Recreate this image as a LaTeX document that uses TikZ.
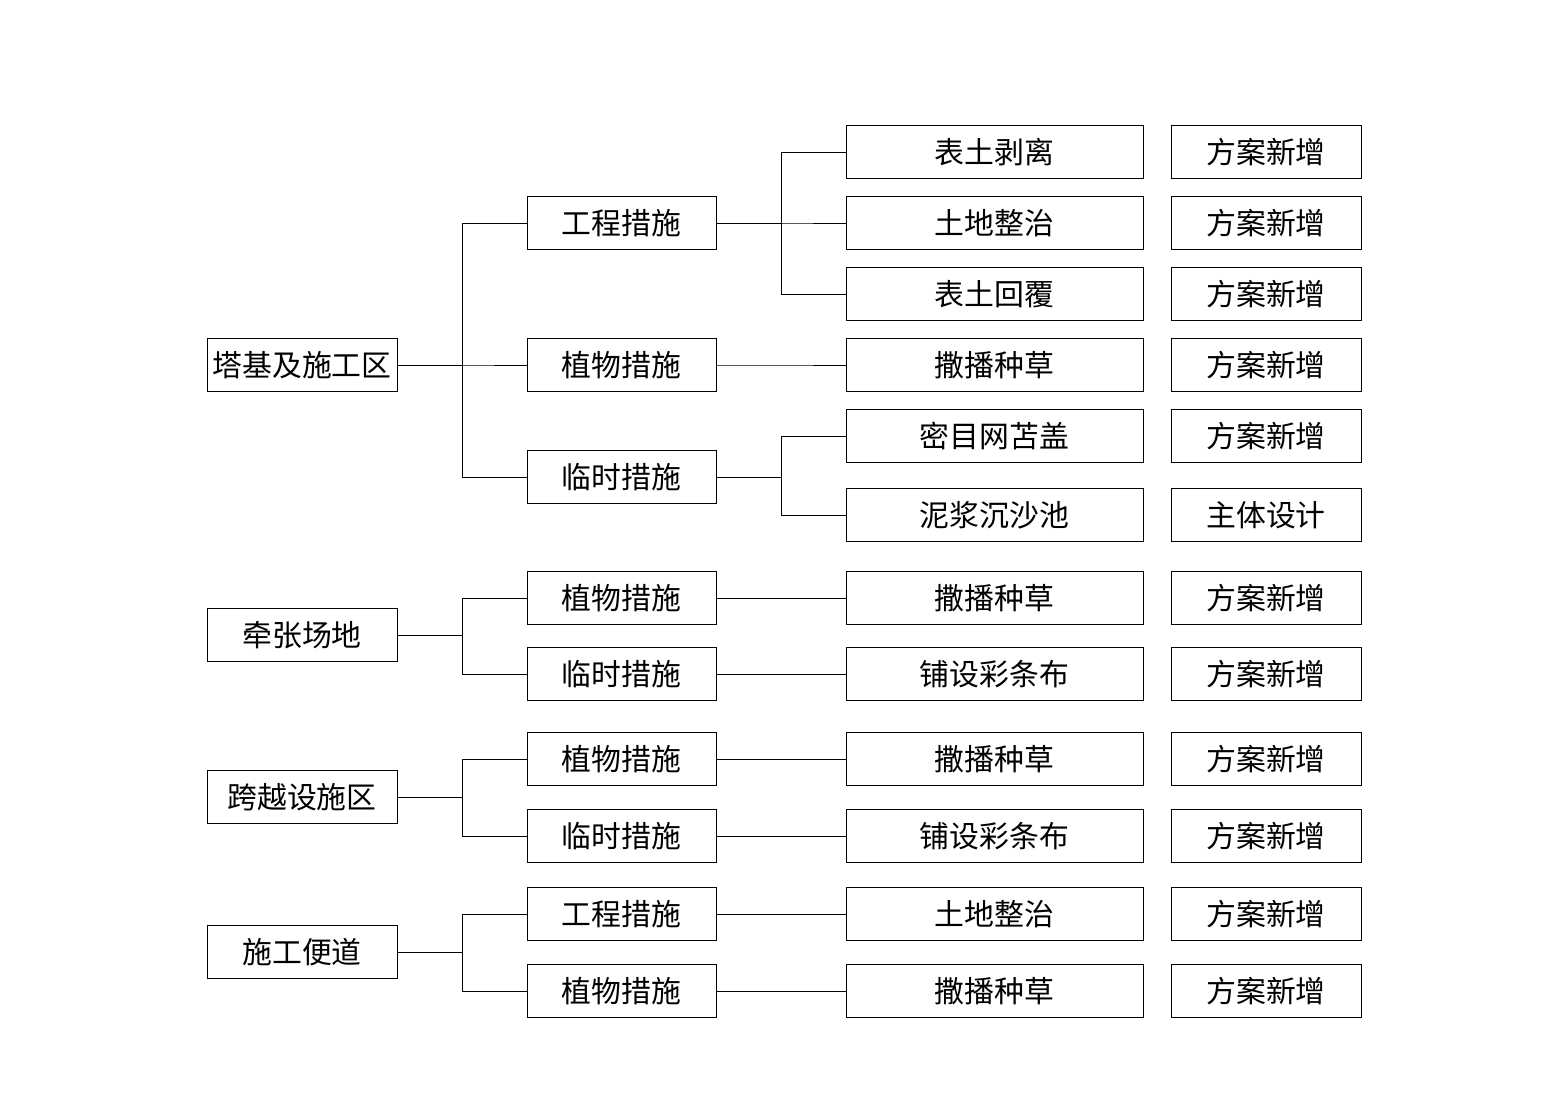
\documentclass[tikz,border=0pt]{standalone}
\usepackage{fontspec}
\newfontfamily\cjk{Noto Sans CJK SC}
\begin{document}
\begin{tikzpicture}[x=0.02cm,y=-0.02cm,
		box/.style={draw,line width=0.45pt,minimum height=1.06cm,inner sep=0pt,
			font=\cjk\fontsize{17}{20}\selectfont},
		areabox/.style={box,minimum width=3.8cm},
		kindbox/.style={box,minimum width=3.78cm},
		itembox/.style={box,minimum width=5.94cm},
		srcbox/.style={box,minimum width=3.8cm},
		link/.style={line width=0.45pt}]
				\useasboundingbox (0,0) rectangle (1549,1113);
				% areas
				\node[areabox] (A1) at (302,365) {塔基及施工区};
				\node[areabox] (A2) at (302,635) {牵张场地};
				\node[areabox] (A3) at (302,797) {跨越设施区};
				\node[areabox] (A4) at (302,952) {施工便道};
				% kinds of measures
				\node[kindbox] (K1) at (621.5,223) {工程措施};
				\node[kindbox] (K2) at (621.5,365) {植物措施};
				\node[kindbox] (K3) at (621.5,477) {临时措施};
				\node[kindbox] (K4) at (621.5,598) {植物措施};
				\node[kindbox] (K5) at (621.5,674) {临时措施};
				\node[kindbox] (K6) at (621.5,759) {植物措施};
				\node[kindbox] (K7) at (621.5,836) {临时措施};
				\node[kindbox] (K8) at (621.5,914) {工程措施};
				\node[kindbox] (K9) at (621.5,991) {植物措施};
				% single measures
				\node[itembox] (M1) at (994.5,152) {表土剥离};
				\node[itembox] (M2) at (994.5,223) {土地整治};
				\node[itembox] (M3) at (994.5,294) {表土回覆};
				\node[itembox] (M4) at (994.5,365) {撒播种草};
				\node[itembox] (M5) at (994.5,436) {密目网苫盖};
				\node[itembox] (M6) at (994.5,515) {泥浆沉沙池};
				\node[itembox] (M7) at (994.5,598) {撒播种草};
				\node[itembox] (M8) at (994.5,674) {铺设彩条布};
				\node[itembox] (M9) at (994.5,759) {撒播种草};
				\node[itembox] (M10) at (994.5,836) {铺设彩条布};
				\node[itembox] (M11) at (994.5,914) {土地整治};
				\node[itembox] (M12) at (994.5,991) {撒播种草};
				% sources
				\node[srcbox] (S1) at (1266,152) {方案新增};
				\node[srcbox] (S2) at (1266,223) {方案新增};
				\node[srcbox] (S3) at (1266,294) {方案新增};
				\node[srcbox] (S4) at (1266,365) {方案新增};
				\node[srcbox] (S5) at (1266,436) {方案新增};
				\node[srcbox] (S6) at (1266,515) {主体设计};
				\node[srcbox] (S7) at (1266,598) {方案新增};
				\node[srcbox] (S8) at (1266,674) {方案新增};
				\node[srcbox] (S9) at (1266,759) {方案新增};
				\node[srcbox] (S10) at (1266,836) {方案新增};
				\node[srcbox] (S11) at (1266,914) {方案新增};
				\node[srcbox] (S12) at (1266,991) {方案新增};
				% areas to kinds
				\foreach \a/\k in {A1/K1,A1/K2,A1/K3,A2/K4,A2/K5,A3/K6,A3/K7,A4/K8,A4/K9}
					\draw[link] (\a.east) -- ++(65,0) |- (\k.west);
				% kinds to measures
				\foreach \k/\m in {K1/M1,K1/M2,K1/M3,K2/M4,K3/M5,K3/M6,K4/M7,K5/M8,K6/M9,K7/M10,K8/M11,K9/M12}
					\draw[link] (\k.east) -- ++(65,0) |- (\m.west);
			\end{tikzpicture}
\end{document}
